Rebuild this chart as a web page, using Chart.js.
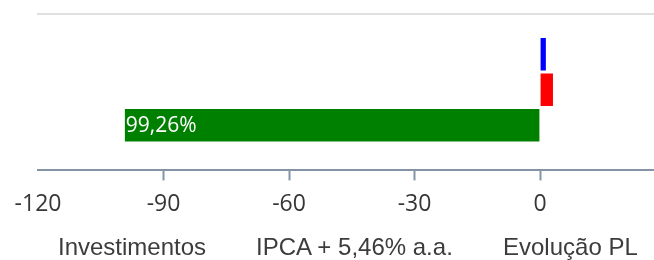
<!DOCTYPE html>
<html>
<head>
<meta charset="utf-8">
<script src="https://cdn.jsdelivr.net/npm/chart.js@4/dist/chart.umd.min.js"></script>
<style>
  body { margin: 0; background: #fff; }
  #wrap { position: relative; width: 654px; height: 260px; }
  #legend span {
    position: absolute; top: 235px;
    font-family: "Liberation Sans", Arial, sans-serif; font-size: 24px; line-height: 24px;
    color: #3c3c3c; white-space: nowrap;
  }
</style>
</head>
<body>
<div id="wrap">
  <canvas id="myChart" width="654" height="260"></canvas>
  <div id="legend"></div>
</div>
<script>
// dados do grafico
var seriesNames = ['Investimentos', 'IPCA + 5,46% a.a.', 'Evolução PL']
var seriesValues = [1.4, 3.1, -99.26]
var seriesColors = ['#0000ff', '#ff0000', '#008000']
var xTicks = [-120, -90, -60, -30, 0]
var legendLeft = [58, 256, 503]

// LEGENDA (html, espacamento igual ao original)
var legend = document.getElementById('legend')
seriesNames.forEach(function (name, i) {
  var s = document.createElement('span')
  s.textContent = name
  s.style.left = legendLeft[i] + 'px'
  legend.appendChild(s)
})

function fmt(v) {
  return Math.abs(v).toFixed(2).replace('.', ',') + '%'
}

// rotulo branco dentro da barra
var barLabels = {
  id: 'barLabels',
  afterDatasetsDraw: function (chart) {
    var ctx = chart.ctx
    ctx.save()
    ctx.font = '21px "Open Sans"'
    ctx.fillStyle = '#ffffff'
    ctx.textBaseline = 'middle'
    ctx.textAlign = 'left'
    chart.data.datasets.forEach(function (ds, i) {
      var meta = chart.getDatasetMeta(i)
      meta.data.forEach(function (bar, j) {
        var txt = fmt(ds.data[j].x)
        var left = Math.min(bar.x, bar.base)
        var w = Math.abs(bar.x - bar.base)
        if (w > ctx.measureText(txt).width + 4) {
          ctx.fillText(txt, left + 1, bar.y + 1)
        }
      })
    })
    ctx.restore()
  }
}

var ctx = document.getElementById('myChart').getContext('2d')
var chart = new Chart(ctx, {
  type: 'bar',
  data: {
    datasets: seriesNames.map(function (name, i) {
      return {
        label: name,
        data: [{ x: seriesValues[i], y: 0 }],
        backgroundColor: seriesColors[i],
        borderColor: '#ffffff',
        borderWidth: { top: 1.75, bottom: 1.75, left: 0, right: 0 },
        borderSkipped: false,
        barThickness: 35.5
      }
    })
  },
  options: {
    indexAxis: 'y',
    responsive: false,
    animation: false,
    layout: { padding: { top: 14, left: 38, right: 0, bottom: 32 } },
    plugins: { legend: { display: false }, tooltip: { enabled: false } },
    scales: {
      x: {
        type: 'linear',
        position: 'bottom',
        min: -120,
        max: 27.25,
        afterBuildTicks: function (axis) {
          axis.ticks = xTicks.map(function (v) { return { value: v } })
        },
        ticks: {
          padding: 10,
          color: '#363636',
          font: { family: '"Open Sans"', size: 23 }
        },
        grid: {
          drawOnChartArea: false,
          tickLength: 10,
          tickWidth: 2,
          tickColor: function (c) { return c.index === 0 ? 'rgba(0,0,0,0)' : '#8494a4' }
        },
        border: { color: '#8494a4', width: 2 }
      },
      x2: {
        type: 'linear',
        position: 'top',
        min: -120,
        max: 27.25,
        ticks: { display: false },
        grid: { display: false, drawTicks: false },
        border: { color: '#e0e0e0', width: 2 }
      },
      y: {
        type: 'linear',
        display: false,
        min: -1,
        max: 0.925
      }
    }
  },
  plugins: [barLabels]
})
</script>
</body>
</html>
